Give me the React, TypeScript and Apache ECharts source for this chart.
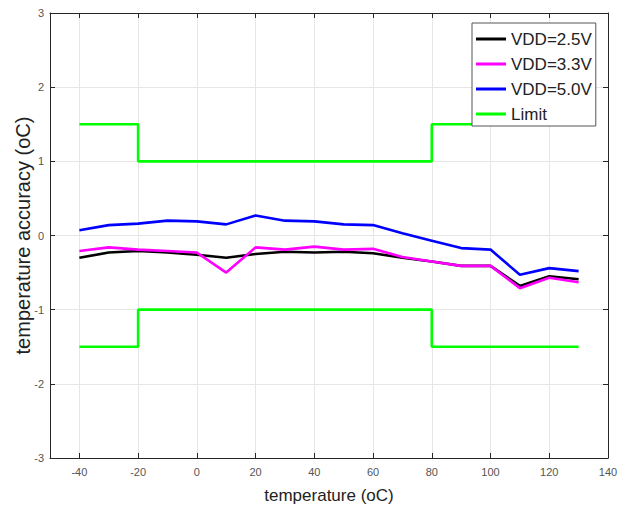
import React, { useEffect, useRef } from "react";
import * as echarts from "echarts";

const temperatures = [-40, -30, -20, -10, 0, 10, 20, 30, 40, 50, 60, 70, 80, 90, 100, 110, 120, 130];
const vdd25 = [-0.30, -0.23, -0.21, -0.23, -0.26, -0.30, -0.25, -0.22, -0.23, -0.22, -0.24, -0.30, -0.35, -0.41, -0.41, -0.68, -0.55, -0.59];
const vdd33 = [-0.21, -0.16, -0.19, -0.21, -0.23, -0.50, -0.16, -0.19, -0.15, -0.19, -0.18, -0.29, -0.35, -0.41, -0.41, -0.71, -0.57, -0.63];
const vdd50 = [0.07, 0.14, 0.16, 0.20, 0.19, 0.15, 0.27, 0.20, 0.19, 0.15, 0.14, 0.03, -0.07, -0.17, -0.19, -0.53, -0.44, -0.48];
const limitTemps = [-40, -20, -20, 80, 80, 130];
const upperLimit = [1.5, 1.5, 1, 1, 1.5, 1.5];
const lowerLimit = [-1.5, -1.5, -1, -1, -1.5, -1.5];
const xTicks = [-40, -20, 0, 20, 40, 60, 80, 100, 120, 140];
const seriesNames = ["VDD=2.5V", "VDD=3.3V", "VDD=5.0V", "Limit"];

const FONT = '"Liberation Sans", Arial, Helvetica, sans-serif';
const AXIS_COLOR = "#262626";

function pairs(xs: number[], ys: number[]) {
  return xs.map((x, i) => [x, ys[i]]);
}

function lineSeries(name: string, xs: number[], ys: number[], color: string) {
  return {
    name,
    type: "line",
    data: pairs(xs, ys),
    symbol: "none",
    color,
    itemStyle: { color },
    lineStyle: { color, width: 2.6 },
    xAxisIndex: 0,
    yAxisIndex: 0,
  };
}

export default function App() {
  const ref = useRef<HTMLDivElement>(null);
  useEffect(() => {
    if (!ref.current) return;
    const chart = echarts.init(ref.current, undefined, { renderer: "svg" });
    const xBase = {
      type: "value",
      min: -50,
      max: 140,
      axisLine: { show: true, onZero: false, lineStyle: { color: AXIS_COLOR, width: 1 } },
      axisTick: { show: true, inside: true, length: 5, customValues: xTicks, lineStyle: { color: AXIS_COLOR } },
    };
    const yBase = {
      type: "value",
      min: -3,
      max: 3,
      interval: 1,
      axisLine: { show: true, onZero: false, lineStyle: { color: AXIS_COLOR, width: 1 } },
      axisTick: { show: true, inside: true, length: 5, lineStyle: { color: AXIS_COLOR } },
    };
    chart.setOption({
      animation: false,
      backgroundColor: "#ffffff",
      textStyle: { fontFamily: FONT },
      grid: { left: 50, right: 19, top: 13, bottom: 54, outerBoundsMode: "none", containLabel: false },
      legend: {
        data: seriesNames,
        orient: "vertical",
        left: 472,
        top: 23,
        padding: [6, 4, 2, 4],
        itemGap: 5,
        itemWidth: 30,
        itemHeight: 3,
        icon: "rect",
        backgroundColor: "#ffffff",
        borderColor: "#555555",
        borderWidth: 1,
        borderRadius: 0,
        textStyle: { fontSize: 17, color: "#222222", fontFamily: FONT, lineHeight: 20 },
      },
      xAxis: [
        {
          ...xBase,
          position: "bottom",
          axisLabel: { show: true, customValues: xTicks, color: "#555555", fontSize: 11, margin: 8, fontFamily: FONT },
          splitLine: { show: true, lineStyle: { color: "#e6e6e6", width: 1 } },
          name: "temperature (oC)",
          nameLocation: "middle",
          nameGap: 29,
          nameMoveOverlap: false,
          nameTextStyle: { fontSize: 17, color: "#222222", fontFamily: FONT },
        },
        {
          ...xBase,
          position: "top",
          axisLabel: { show: false },
          splitLine: { show: false },
        },
      ],
      yAxis: [
        {
          ...yBase,
          position: "left",
          axisLabel: { show: true, color: "#555555", fontSize: 11, margin: 6, fontFamily: FONT },
          splitLine: { show: true, lineStyle: { color: "#e6e6e6", width: 1 } },
          name: "temperature accuracy (oC)",
          nameLocation: "middle",
          nameGap: 17,
          nameMoveOverlap: false,
          nameTextStyle: { fontSize: 20, color: "#222222", fontFamily: FONT },
        },
        {
          ...yBase,
          position: "right",
          axisLabel: { show: false },
          splitLine: { show: false },
        },
      ],
      series: [
        lineSeries(seriesNames[0], temperatures, vdd25, "#000000"),
        lineSeries(seriesNames[1], temperatures, vdd33, "#ff00ff"),
        lineSeries(seriesNames[2], temperatures, vdd50, "#0000ff"),
        lineSeries(seriesNames[3], limitTemps, upperLimit, "#00ff00"),
        lineSeries(seriesNames[3], limitTemps, lowerLimit, "#00ff00"),
      ],
    });
    return () => chart.dispose();
  }, []);
  return (
    <div
      ref={ref}
      style={{ position: "fixed", left: 0, top: 0, width: 627, height: 512, background: "#fff" }}
    />
  );
}
